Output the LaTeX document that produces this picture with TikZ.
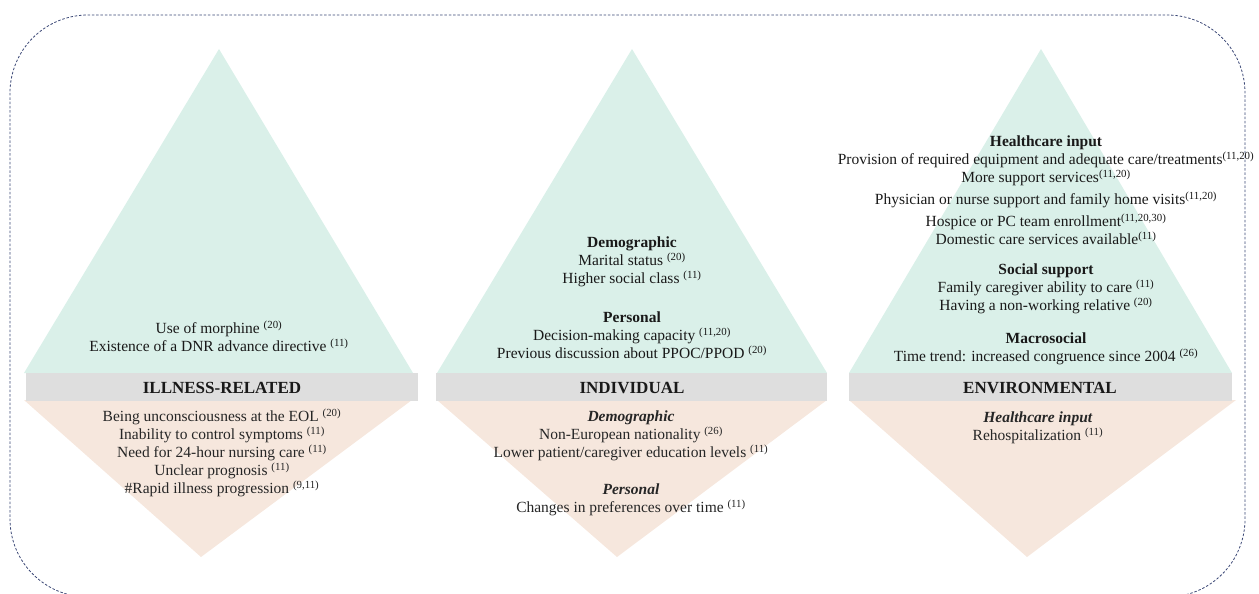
\documentclass[tikz,border=0pt]{standalone}
\usepackage{fontspec}
\setmainfont{Liberation Serif}
\usetikzlibrary{positioning}

\definecolor{mint}{HTML}{DAF0E9}
\definecolor{peach}{HTML}{F6E7DD}
\definecolor{bandgrey}{HTML}{DEDEDE}
\definecolor{framegrey}{HTML}{3A4775}

\newcommand{\rf}[1]{\textsuperscript{(#1)}}

\tikzset{
  factors/.style={align=center, inner sep=0pt, text=black!90, font=\fontsize{15.5}{18}\selectfont},
  lowfactors/.style={factors, text=black!85},
  pillarlabel/.style={inner sep=0pt, text=black!90, font=\fontsize{17}{20}\selectfont\bfseries},
}

\begin{document}
\begin{tikzpicture}[x=1pt,y=-1pt]
	\useasboundingbox (0,0) rectangle (1259,594);

	%Frame
	\draw[framegrey, line width=0.8pt, dash pattern=on 2.5pt off 1.8pt, rounded corners=78pt] (10,15) rectangle (1245,597);

	%Nodes
	\coordinate      (ill-top) 	at 	(219,49);
	\coordinate      (ill-bl) 	at 	(24,373);
	\coordinate      (ill-br) 	at 	(413,373);
	\coordinate      (ill-tip) 	at 	(201,557);
	\coordinate      (ind-top) 	at 	(632,49);
	\coordinate      (ind-bl) 	at 	(437,373);
	\coordinate      (ind-br) 	at 	(827,373);
	\coordinate      (ind-tip) 	at 	(617,557);
	\coordinate      (env-top) 	at 	(1041,49);
	\coordinate      (env-bl) 	at 	(849,373);
	\coordinate      (env-br) 	at 	(1232,373);
	\coordinate      (env-tip) 	at 	(1027,557);

	%Shapes
	\fill[mint] (ill-top) -- (ill-bl) -- (ill-br) -- cycle;
	\fill[mint] (ind-top) -- (ind-bl) -- (ind-br) -- cycle;
	\fill[mint] (env-top) -- (env-bl) -- (env-br) -- cycle;

	\fill[peach] (24,400) -- (412,400) -- (ill-tip) -- cycle;
	\fill[peach] (437,400) -- (827,400) -- (ind-tip) -- cycle;
	\fill[peach] (849,400) -- (1236,400) -- (env-tip) -- cycle;

	\fill[bandgrey] (26,373) rectangle (418,401);
	\fill[bandgrey] (436,373) rectangle (827,401);
	\fill[bandgrey] (849,373) rectangle (1232,401);

	%Labels
	\node[pillarlabel] (ill-lab) at (222,388) {ILLNESS-RELATED};
	\node[pillarlabel] (ind-lab) at (632,388) {INDIVIDUAL};
	\node[pillarlabel] (env-lab) at (1040,388) {ENVIRONMENTAL};

	\node[factors] (ill-up) at (219,336) {Use of morphine \rf{20}\\Existence of a DNR advance directive \rf{11}};
	\node[lowfactors] (ill-low) at (222,453) {Being unconsciousness at the EOL \rf{20}\\Inability to control symptoms \rf{11}\\Need for 24-hour nursing care \rf{11}\\Unclear prognosis \rf{11}\\\#Rapid illness progression \rf{9,11}};

	\node[factors] (ind-demo) at (632,262) {\textbf{Demographic}\\Marital status \rf{20}\\Higher social class \rf{11}};
	\node[factors] (ind-pers) at (632,335) {\textbf{Personal}\\Decision-making capacity \rf{11,20}\\Previous discussion about PPOC/PPOD \rf{20}};
	\node[lowfactors] (ind-demo-low) at (631,436) {\textbf{\textit{Demographic}}\\Non-European nationality \rf{26}\\Lower patient/caregiver education levels \rf{11}};
	\node[lowfactors] (ind-pers-low) at (631,500) {\textbf{\textit{Personal}}\\Changes in preferences over time \rf{11}};

	\node[factors] (env-care) at (1046,190) {\textbf{Healthcare input}\\Provision of required equipment and adequate care/treatments\rf{11,20}\\More support services\rf{11,20}\\[4pt]Physician or nurse support and family home visits\rf{11,20}\\[4pt]Hospice or PC team enrollment\rf{11,20,30}\\Domestic care services available\rf{11}};
	\node[factors] (env-social) at (1046,289) {\textbf{Social support}\\Family caregiver ability to care \rf{11}\\Having a non-working relative \rf{20}};
	\node[factors] (env-macro) at (1046,349) {\textbf{Macrosocial}\\Time trend: increased congruence since 2004 \rf{26}};
	\node[lowfactors] (env-care-low) at (1038,428) {\textbf{\textit{Healthcare input}}\\Rehospitalization \rf{11}};

\end{tikzpicture}
\end{document}
